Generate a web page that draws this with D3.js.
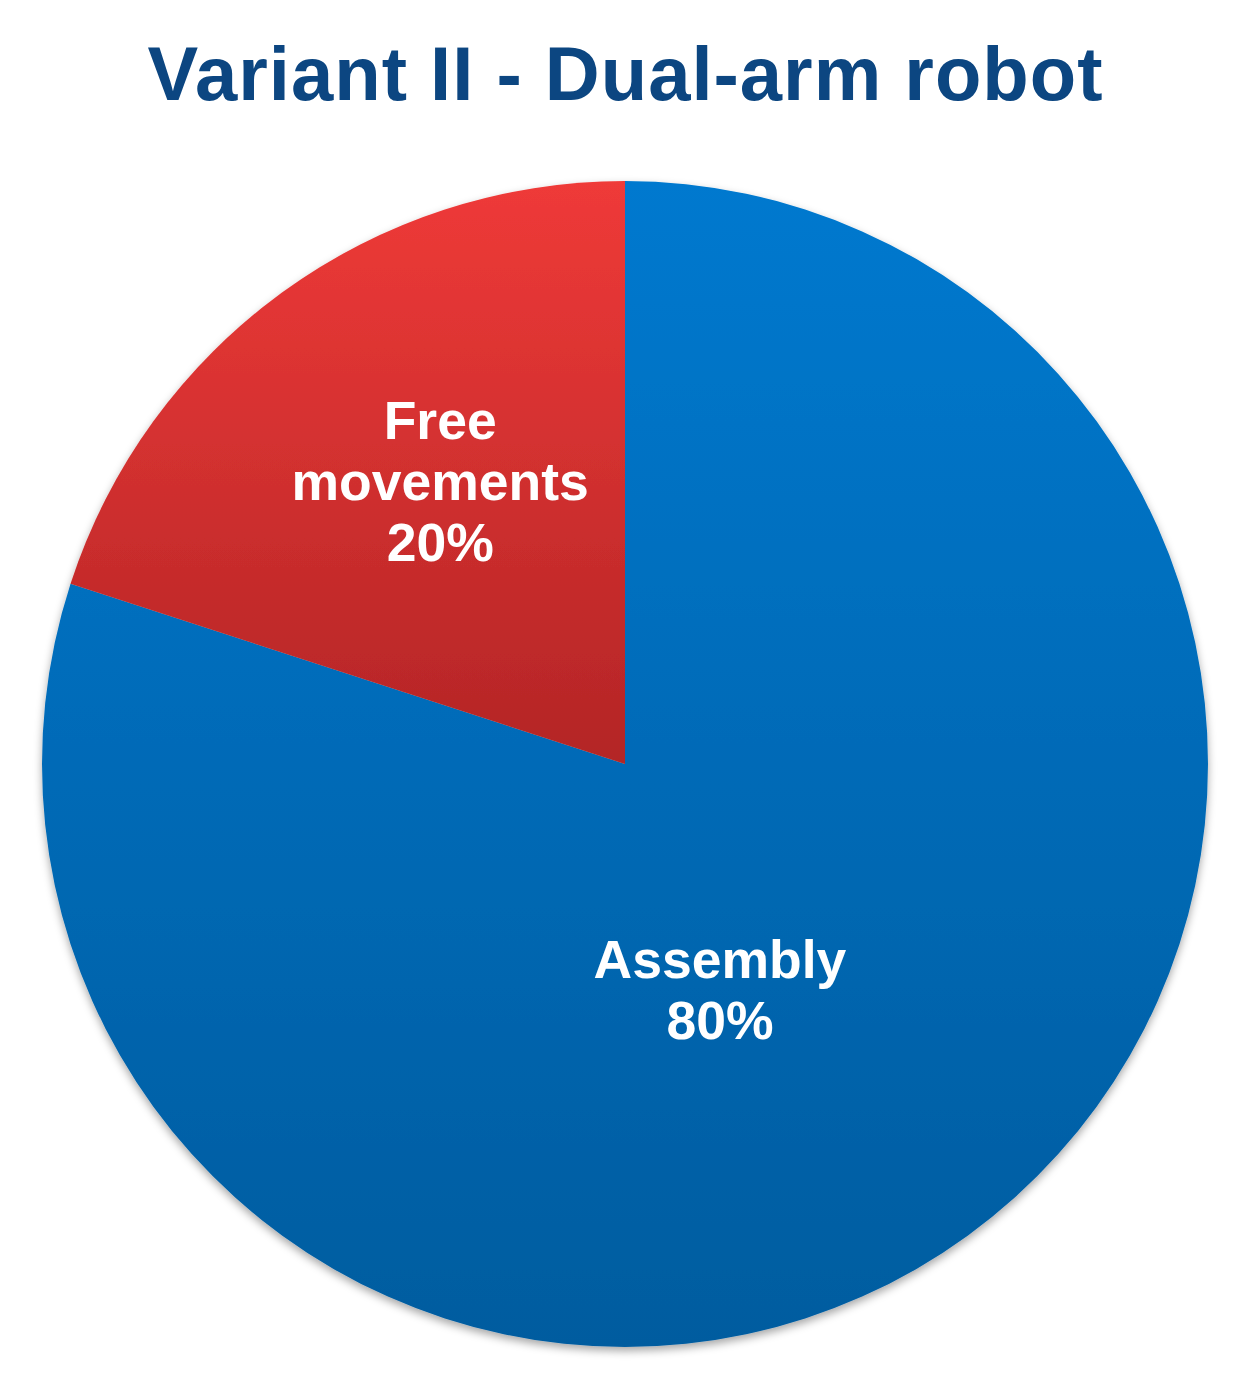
<!DOCTYPE html>
<html><head><meta charset="utf-8">
<script src="https://cdn.jsdelivr.net/npm/d3@7"></script>
<style>body{margin:0;background:#fff}svg{display:block}</style>
</head><body>
<script>
const categories = ["Assembly", "Free movements"];
const values = [80, 20];
const titleText = "Variant II - Dual-arm robot";

const W = 1259, H = 1391;
const cx = 625, cy = 764, R = 583;
const colorsTop = ["#0479cf", "#ef3a38"];
const colorsBottom = ["#005c9f", "#b32526"];

const svg = d3.select("body").append("svg").attr("width", W).attr("height", H);
const defs = svg.append("defs");
categories.forEach((c, i) => {
  const g = defs.append("linearGradient").attr("id", "grad" + i)
    .attr("x1", 0).attr("y1", 0).attr("x2", 0).attr("y2", 1);
  g.append("stop").attr("offset", "0%").attr("stop-color", colorsTop[i]);
  g.append("stop").attr("offset", "100%").attr("stop-color", colorsBottom[i]);
});
const f = defs.append("filter").attr("id", "shadow").attr("x", "-10%").attr("y", "-10%").attr("width", "120%").attr("height", "120%");
f.append("feDropShadow").attr("dx", 0).attr("dy", 4).attr("stdDeviation", 4)
  .attr("flood-color", "#000").attr("flood-opacity", 0.35);

svg.append("text").attr("x", cx).attr("y", 100).attr("text-anchor", "middle")
  .attr("font-family", "Liberation Sans, Arial, sans-serif").attr("font-weight", "bold")
  .attr("font-size", 76).attr("fill", "#0c4681")
  .attr("textLength", 955).attr("lengthAdjust", "spacing")
  .text(titleText);

const pie = d3.pie().sort(null).value(d => d.v);
const data = pie(categories.map((c, i) => ({ c, v: values[i], i })));
const arc = d3.arc().innerRadius(0).outerRadius(R);

const g = svg.append("g").attr("transform", `translate(${cx},${cy})`);
const pg = g.append("g").attr("filter", "url(#shadow)");
pg.selectAll("path").data(data).join("path")
  .attr("d", arc)
  .attr("fill", d => `url(#grad${d.data.i})`);

// label placement: polar position (fraction of radius, angle offset) per slice
const labelLayout = [{ rf: 0.42, da: 0.23 }, { rf: 0.58, da: 0.05 }];
const fmt = v => v + "%";
data.forEach(d => {
  const L = labelLayout[d.data.i];
  const a = (d.startAngle + d.endAngle) / 2 + L.da;
  const r = R * L.rf;
  const x = Math.sin(a) * r, y = -Math.cos(a) * r;
  const words = d.data.c.split(" ");
  const lines = words.concat([fmt(d.data.v)]);
  const lh = 61;
  const t = g.append("text").attr("text-anchor", "middle")
    .attr("font-family", "Liberation Sans, Arial, sans-serif").attr("font-weight", "bold")
    .attr("font-size", 53.5).attr("fill", "#fff");
  lines.forEach((ln, k) => {
    t.append("tspan").attr("x", x).attr("y", y + (k - (lines.length - 1) / 2) * lh + 19).text(ln);
  });
});
</script>
</body></html>
